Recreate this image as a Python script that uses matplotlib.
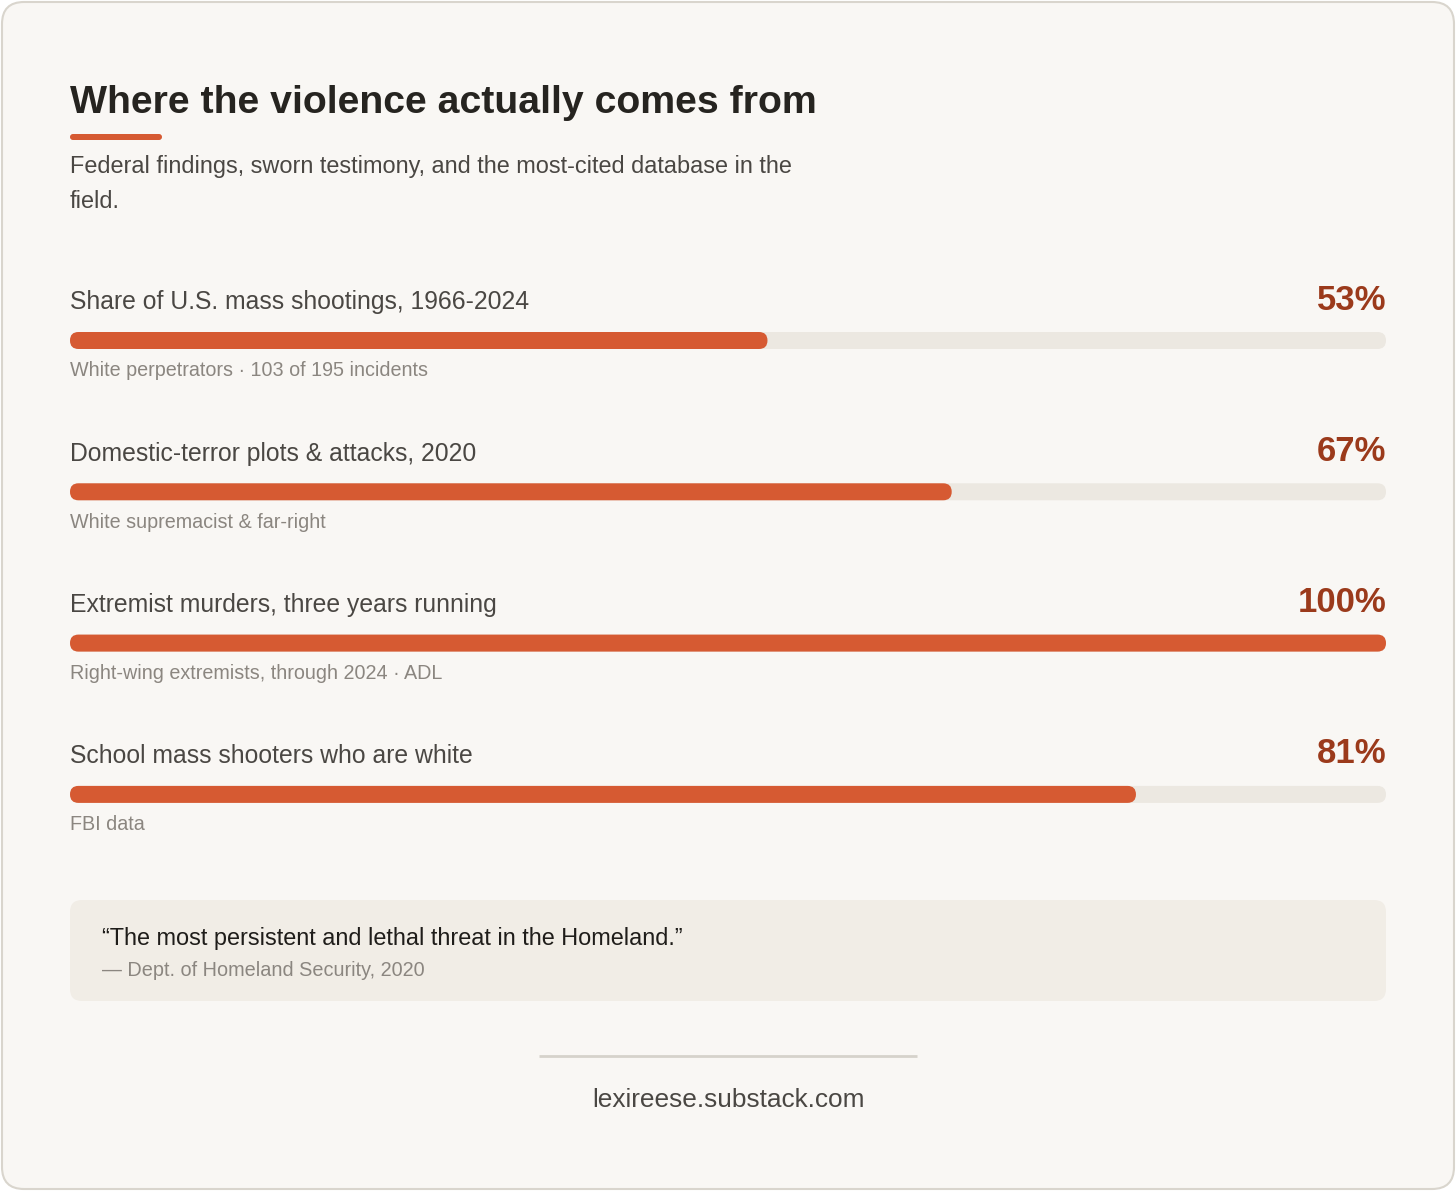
import matplotlib.pyplot as plt
from matplotlib.patches import FancyBboxPatch

plt.rcParams['font.family'] = ['Liberation Sans', 'DejaVu Sans']

# DATA
labels = [
    "Share of U.S. mass shootings, 1966-2024",
    "Domestic-terror plots & attacks, 2020",
    "Extremist murders, three years running",
    "School mass shooters who are white",
]
values = [53, 67, 100, 81]
notes = [
    "White perpetrators \u00b7 103 of 195 incidents",
    "White supremacist & far-right",
    "Right-wing extremists, through 2024 \u00b7 ADL",
    "FBI data",
]
title = "Where the violence actually comes from"
subtitle = ["Federal findings, sworn testimony, and the most-cited database in the", "field."]
quote = "\u201cThe most persistent and lethal threat in the Homeland.\u201d"
quote_src = "\u2014 Dept. of Homeland Security, 2020"
footer = "lexireese.substack.com"

# COLORS
BG = "#ffffff"
CARD = "#f9f7f4"
BORDER = "#d9d5cd"
ACCENT = "#d65a32"
TRACK = "#ece8e1"
VALUE = "#9b3a1b"
DARK = "#262420"
MID = "#4a4743"
MUTED = "#8b8680"
QUOTE_BG = "#f1ede6"

W, H = 1456, 1191
fig = plt.figure(figsize=(W / 100, H / 100), dpi=100, facecolor=BG)
ax = fig.add_axes([0, 0, 1, 1])
ax.set_xlim(0, W)
ax.set_ylim(H, 0)
ax.axis("off")

# CARD
ax.add_patch(FancyBboxPatch((2, 2), W - 4, H - 4, boxstyle="round,pad=0,rounding_size=22",
                            facecolor=CARD, edgecolor=BORDER, linewidth=1.5))

left, right = 70, 1386
span = right - left

# HEADER
ax.text(left, 103, title, fontsize=28.3, fontweight="bold", color=DARK, va="center", ha="left")
ax.add_patch(FancyBboxPatch((left, 134), 92, 6, boxstyle="round,pad=0,rounding_size=3",
                            facecolor=ACCENT, edgecolor="none"))
ax.text(left, 166, subtitle[0], fontsize=16.9, color=MID, va="center", ha="left")
ax.text(left, 201, subtitle[1], fontsize=16.9, color=MID, va="center", ha="left")

# BARS
row0, step = 300, 151.3
bar_h = 17
for i, (lab, v, note) in enumerate(zip(labels, values, notes)):
    y = row0 + i * step
    ax.text(left, y + 2.5, lab, fontsize=17.8, color=MID, va="center", ha="left")
    ax.text(right, y, f"{v}%", fontsize=25, fontweight="bold", color=VALUE, va="center", ha="right")
    by = y + 32
    ax.add_patch(FancyBboxPatch((left, by), span, bar_h, boxstyle="round,pad=0,rounding_size=8.5",
                                facecolor=TRACK, edgecolor="none"))
    ax.add_patch(FancyBboxPatch((left, by), span * v / 100, bar_h, boxstyle="round,pad=0,rounding_size=8.5",
                                facecolor=ACCENT, edgecolor="none"))
    ax.text(left, y + 71, note, fontsize=14.2, color=MUTED, va="center", ha="left")

# QUOTE BOX
ax.add_patch(FancyBboxPatch((left, 900), span, 101, boxstyle="round,pad=0,rounding_size=12",
                            facecolor=QUOTE_BG, edgecolor="none"))
ax.text(102, 938.5, quote, fontsize=16.9, color="#1f1d1a", va="center", ha="left")
ax.text(102, 971, quote_src, fontsize=14.35, color=MUTED, va="center", ha="left")

# FOOTER
ax.plot([539, 917], [1056, 1056], color="#d6d2cb", linewidth=2, solid_capstyle="butt")
ax.text(728, 1100, footer, fontsize=18.9, color=MID, va="center", ha="center")

fig.savefig("out.png", dpi=100, facecolor=BG)
